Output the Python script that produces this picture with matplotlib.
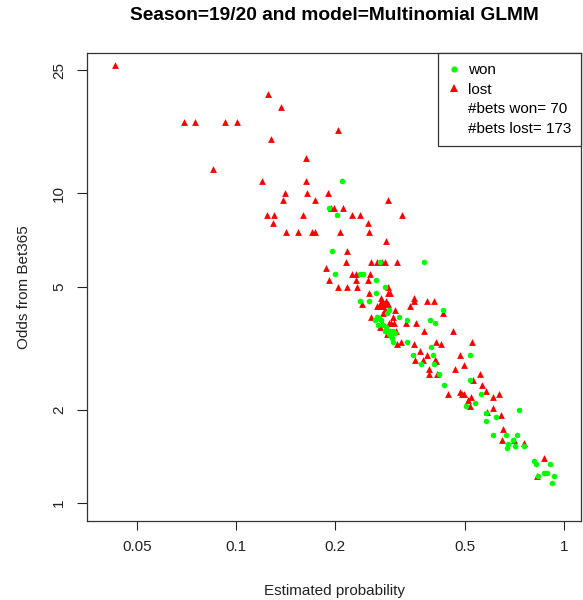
import matplotlib
matplotlib.use("Agg")
import matplotlib.pyplot as plt
from matplotlib.lines import Line2D
from matplotlib.ticker import FixedLocator, FixedFormatter, NullLocator

plt.rcParams['font.family'] = ['Liberation Sans', 'DejaVu Sans']

# estimated probability / bookmaker odds
won_prob = [0.210, 0.1925, 0.2037, 0.1966, 0.2008, 0.2388, 0.2443, 0.2748, 0.375, 0.2672,
            0.2846, 0.2672, 0.2388, 0.2549, 0.4267, 0.2926, 0.2894, 0.3141, 0.2695, 0.2723,
            0.2653, 0.2767, 0.3315, 0.3917, 0.4051, 0.2706, 0.2846, 0.2894, 0.2947, 0.3002,
            0.2926, 0.2989, 0.3015, 0.3315, 0.3945, 0.3457, 0.3995, 0.518, 0.3676, 0.402,
            0.4172, 0.5185, 0.4315, 0.5597, 0.5366, 0.5026, 0.7293, 0.5784, 0.6217, 0.579,
            0.6062, 0.6657, 0.7191, 0.7005, 0.6766, 0.6704, 0.7106, 0.7558, 0.8084, 0.8214,
            0.9065, 0.8679, 0.8857, 0.8348, 0.9302, 0.9173, 0.281, 0.287, 0.305, 0.296]
won_odds = [11.0, 9.0, 8.5, 6.5, 5.5, 5.5, 5.5, 6.0, 6.0, 5.25,
            5.0, 4.75, 4.5, 4.5, 4.2, 4.2, 4.1, 4.0, 4.0, 3.95,
            3.9, 3.9, 3.9, 3.9, 3.8, 3.75, 3.6, 3.6, 3.6, 3.6,
            3.5, 3.4, 3.3, 3.3, 3.2, 3.0, 3.0, 3.0, 2.8, 2.8,
            2.6, 2.5, 2.4, 2.25, 2.1, 2.05, 2.0, 1.95, 1.9, 1.84,
            1.66, 1.66, 1.66, 1.6, 1.55, 1.5, 1.53, 1.53, 1.36, 1.33,
            1.33, 1.25, 1.25, 1.22, 1.22, 1.16, 3.75, 3.7, 3.55, 3.45]

lost_prob = [0.0428, 0.125, 0.1368, 0.0693, 0.0751, 0.0924, 0.1007, 0.2051, 0.1276, 0.1635,
             0.0849, 0.120, 0.163, 0.1414, 0.165, 0.1905, 0.1394, 0.1745, 0.290, 0.1994,
             0.2125, 0.1944, 0.1241, 0.1305, 0.1597, 0.2262, 0.2383, 0.3201, 0.130, 0.2531,
             0.1421, 0.1542, 0.1711, 0.1746, 0.2083, 0.2549, 0.2872, 0.2173, 0.2158, 0.2589,
             0.2691, 0.2793, 0.2846, 0.3103, 0.1885, 0.2262, 0.2322, 0.2571, 0.1925, 0.2324,
             0.2531, 0.2040, 0.2181, 0.2343, 0.2906, 0.2549, 0.2901, 0.2941, 0.3494, 0.3494,
             0.3814, 0.4016, 0.2417, 0.2767, 0.2793, 0.2866, 0.2748, 0.2826, 0.2906, 0.2682,
             0.3393, 0.4267, 0.3060, 0.2846, 0.2799, 0.2577, 0.3015, 0.2781, 0.2926, 0.2977,
             0.3038, 0.3290, 0.3538, 0.2748, 0.3748, 0.4586, 0.3069, 0.3090, 0.3185, 0.3488,
             0.4085, 0.4225, 0.5253, 0.3651, 0.3814, 0.4817, 0.3521, 0.3728, 0.4034, 0.4962,
             0.3876, 0.4667, 0.3876, 0.4087, 0.5534, 0.5298, 0.5644, 0.5784, 0.4437, 0.4817,
             0.4886, 0.4955, 0.6094, 0.6319, 0.5206, 0.5097, 0.5158, 0.6078, 0.5811, 0.6426,
             0.6517, 0.6471, 0.704, 0.7553, 0.8672, 0.8255, 0.2799, 0.2748, 0.406, 0.2882]
lost_odds = [26, 21, 19, 17, 17, 17, 17, 16, 15, 13,
             12, 11, 11, 10, 10, 10, 9.5, 9.5, 9.5, 9.0,
             9.0, 9.0, 8.5, 8.5, 8.5, 8.5, 8.5, 8.5, 8.0, 8.0,
             7.5, 7.5, 7.5, 7.5, 7.5, 7.5, 7.0, 6.5, 6.0, 6.0,
             6.0, 6.0, 6.0, 6.0, 5.75, 5.5, 5.5, 5.5, 5.25, 5.25,
             5.25, 5.0, 5.0, 5.0, 5.0, 4.75, 4.75, 4.75, 4.6, 4.5,
             4.5, 4.5, 4.4, 4.6, 4.5, 4.5, 4.4, 4.4, 4.4, 4.33,
             4.33, 4.1, 4.2, 4.2, 4.1, 4.0, 4.0, 3.8, 3.8, 3.8,
             3.8, 3.8, 3.8, 3.7, 3.6, 3.6, 3.6, 3.25, 3.3, 3.25,
             3.3, 3.25, 3.3, 3.1, 3.0, 3.0, 2.9, 2.9, 2.9, 2.78,
             2.7, 2.7, 2.6, 2.6, 2.6, 2.5, 2.4, 2.3, 2.25, 2.28,
             2.25, 2.25, 2.2, 2.25, 2.2, 2.15, 2.06, 2.02, 1.96, 1.92,
             1.73, 1.6, 1.6, 1.56, 1.4, 1.22, 4.33, 4.33, 2.88, 3.5]

x_ticks = [0.05, 0.1, 0.2, 0.5, 1]
x_labels = ["0.05", "0.1", "0.2", "0.5", "1"]
y_ticks = [1, 2, 5, 10, 25]
y_labels = ["1", "2", "5", "10", "25"]
n_won = 70
n_lost = 173

fig = plt.figure(figsize=(5.83, 6.0), dpi=100)
ax = fig.add_axes([0.1497, 0.1325, 0.8468, 0.7792])

ax.scatter(lost_prob, lost_odds, marker='^', s=24, color='#ff0000', linewidths=0)
ax.scatter(won_prob, won_odds, marker='o', s=16, color='#00ff00', linewidths=0)

ax.set_xscale('log')
ax.set_yscale('log')
ax.set_xlim(0.03521, 1.1267)
ax.set_ylim(0.8763, 28.45)

ax.xaxis.set_major_locator(FixedLocator(x_ticks))
ax.xaxis.set_major_formatter(FixedFormatter(x_labels))
ax.xaxis.set_minor_locator(NullLocator())
ax.yaxis.set_major_locator(FixedLocator(y_ticks))
ax.yaxis.set_major_formatter(FixedFormatter(y_labels))
ax.yaxis.set_minor_locator(NullLocator())

ax.tick_params(axis='x', length=6.3, width=0.8, pad=8, labelsize=11, colors='#222222')
ax.tick_params(axis='y', length=7.2, width=0.8, pad=8, labelsize=11, colors='#222222')
for lab in ax.get_yticklabels():
    lab.set_rotation(90)
    lab.set_va('center')

for sp in ax.spines.values():
    sp.set_color('#333333')
    sp.set_linewidth(0.9)

ax.set_xlabel('Estimated probability', fontsize=11, labelpad=21, color='#222222')
ax.set_ylabel('Odds from Bet365', fontsize=11, labelpad=15, color='#222222')

fig.text(0.573, 1 - 16 / 600, 'Season=19/20 and model=Multinomial GLMM',
         ha='center', va='center', fontsize=13.8, fontweight='bold')

handles = [Line2D([], [], marker='o', ls='', color='#00ff00', markersize=4.5, markeredgewidth=0),
           Line2D([], [], marker='^', ls='', color='#ff0000', markersize=5.5, markeredgewidth=0),
           Line2D([], [], ls='', marker=''),
           Line2D([], [], ls='', marker='')]
labels = ['won', 'lost', '#bets won= %d' % n_won, '#bets lost= %d' % n_lost]
leg = ax.legend(handles, labels, loc='upper right', borderaxespad=0, fancybox=False,
                edgecolor='#333333', framealpha=1, fontsize=11, handlelength=0.8,
                handletextpad=0.5, labelspacing=0.37, borderpad=0.65)
leg.get_frame().set_linewidth(0.9)

fig.savefig('out.png', dpi=100)
